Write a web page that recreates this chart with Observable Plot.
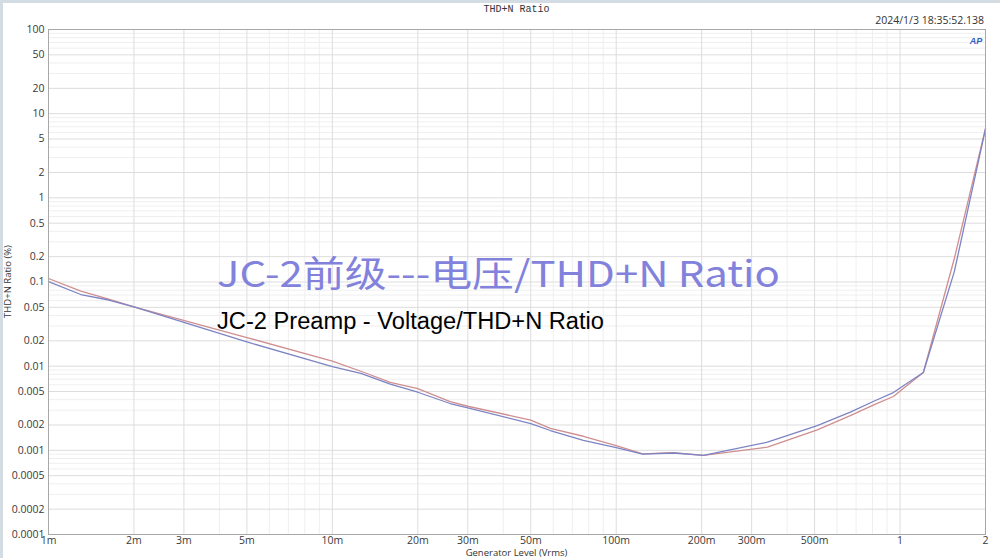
<!DOCTYPE html>
<html><head><meta charset="utf-8">
<script src="https://cdn.jsdelivr.net/npm/d3@7"></script>
<script src="https://cdn.jsdelivr.net/npm/@observablehq/plot@0.6"></script>
<style>
html,body{margin:0;padding:0;background:#fff;}
#wrap{position:relative;width:1000px;height:558px;overflow:hidden;background:#fff;}
.edgeT{position:absolute;left:0;top:0;width:1000px;height:3px;background:#d3dce2;}
.edgeL{position:absolute;left:0;top:0;width:3px;height:558px;background:#d3dce2;}
</style></head><body><div id="wrap"><div class="edgeT"></div><div class="edgeL"></div></div>
<script>
// Generator level (Vrms)
const voltage = [0.001, 0.0013, 0.00163, 0.002, 0.005, 0.01, 0.0126, 0.016, 0.02, 0.026, 0.03, 0.05, 0.0586, 0.0766, 0.1, 0.124, 0.159, 0.203, 0.341, 0.511, 0.668, 0.819, 0.947, 1.208, 1.553, 2.0];
// THD+N ratio (%), blue channel
const blueSeries = [0.101, 0.071, 0.0611, 0.0505, 0.0194, 0.0099, 0.0082, 0.0061, 0.0049, 0.0036, 0.0032, 0.00208, 0.00172, 0.00131, 0.00108, 0.0009, 0.00093, 0.00087, 0.00125, 0.00197, 0.00284, 0.00391, 0.00486, 0.0084, 0.133, 6.6];
// THD+N ratio (%), red channel
const redSeries = [0.110, 0.0777, 0.0624, 0.0505, 0.0219, 0.0115, 0.0087, 0.0064, 0.0054, 0.0038, 0.00334, 0.00229, 0.00182, 0.00147, 0.00114, 0.00091, 0.00094, 0.00087, 0.00109, 0.00175, 0.00259, 0.00354, 0.00436, 0.0084, 0.19, 6.7];

const xTicks = [0.001, 0.002, 0.003, 0.005, 0.01, 0.02, 0.03, 0.05, 0.1, 0.2, 0.3, 0.5, 1, 2];
const xTickLabels = ["1m", "2m", "3m", "5m", "10m", "20m", "30m", "50m", "100m", "200m", "300m", "500m", "1", "2"];
const xMinor = [0.004, 0.006, 0.007, 0.008, 0.009, 0.04, 0.06, 0.07, 0.08, 0.09, 0.4, 0.6, 0.7, 0.8, 0.9];
const yTicks = [0.0001, 0.0002, 0.0005, 0.001, 0.002, 0.005, 0.01, 0.02, 0.05, 0.1, 0.2, 0.5, 1, 2, 5, 10, 20, 50, 100];
const yTickLabels = ["0.0001", "0.0002", "0.0005", "0.001", "0.002", "0.005", "0.01", "0.02", "0.05", "0.1", "0.2", "0.5", "1", "2", "5", "10", "20", "50", "100"];
const yMinor = [0.0003, 0.0004, 0.0006, 0.0007, 0.0008, 0.0009, 0.003, 0.004, 0.006, 0.007, 0.008, 0.009, 0.03, 0.04, 0.06, 0.07, 0.08, 0.09, 0.3, 0.4, 0.6, 0.7, 0.8, 0.9, 3, 4, 6, 7, 8, 9, 30, 40, 60, 70, 80, 90];

const chartTitle = "THD+N Ratio";
const timestamp = "2024/1/3 18:35:52.138";
const xLabel = "Generator Level (Vrms)";
const yLabel = "THD+N Ratio (%)";
const overlayCN = "JC-2前级---电压/THD+N Ratio";
const overlayEN = "JC-2 Preamp - Voltage/THD+N Ratio";

const rows = voltage.map((v, i) => ({v, blue: blueSeries[i], red: redSeries[i]}));
const xTickRows = xTicks.map((v, i) => ({v, label: xTickLabels[i]}));
const yTickRows = yTicks.map((v, i) => ({v, label: yTickLabels[i]}));

const W = 1000, H = 558, ML = 48, MR = 15, MT = 29, MB = 24;

const chart = Plot.plot({
  width: W, height: H,
  marginLeft: ML, marginRight: MR, marginTop: MT, marginBottom: MB,
  style: {fontFamily: "'Open Sans', 'Noto Sans', sans-serif", fontSize: "10.5px", color: "#3a3a3a", background: "transparent"},
  x: {type: "log", domain: [0.001, 2], axis: null},
  y: {type: "log", domain: [0.0001, 100], axis: null},
  marks: [
    Plot.ruleX(xMinor, {stroke: "#efefef", strokeWidth: 1}),
    Plot.ruleY(yMinor, {stroke: "#efefef", strokeWidth: 1}),
    Plot.ruleX(xTicks, {stroke: "#dddddd", strokeWidth: 1}),
    Plot.ruleY(yTicks, {stroke: "#dddddd", strokeWidth: 1}),
    Plot.lineY(rows, {x: "v", y: "red", stroke: "#cf8e90", strokeWidth: 1.3}),
    Plot.lineY(rows, {x: "v", y: "blue", stroke: "#7d84c4", strokeWidth: 1.3}),
    Plot.frame({stroke: "#a8a8a8"}),
    Plot.text(xTickRows, {x: "v", text: "label", frameAnchor: "bottom", dy: 2, lineAnchor: "top", fill: "#3a3a3a", fontSize: 10.5}),
    Plot.text(yTickRows, {y: "v", text: "label", frameAnchor: "left", dx: -4, textAnchor: "end", fill: "#3a3a3a", fontSize: 10.5})
  ]
});
chart.style.position = "absolute";
chart.style.left = "0px";
chart.style.top = "0px";
document.getElementById("wrap").appendChild(chart);

const svg = d3.select(chart);
const cx = ML + (W - ML - MR) / 2;
const cy = MT + (H - MT - MB) / 2;
svg.append("text").attr("x", cx).attr("y", 12).attr("text-anchor", "middle")
  .attr("font-family", "'Liberation Mono', monospace").attr("font-size", 10).attr("fill", "#333").text(chartTitle);
svg.append("text").attr("x", 984).attr("y", 24).attr("text-anchor", "end")
  .attr("font-family", "'Open Sans', sans-serif").attr("font-size", 10.5).attr("fill", "#333").text(timestamp);
svg.append("text").attr("x", 976).attr("y", 44).attr("text-anchor", "middle")
  .attr("font-family", "'Liberation Sans', sans-serif").attr("font-style", "italic").attr("font-weight", "bold")
  .attr("font-size", 9).attr("fill", "#2d5fc4").text("AP");
svg.append("text").attr("transform", `translate(11,${cy}) rotate(-90)`).attr("text-anchor", "middle")
  .attr("font-family", "'Open Sans', sans-serif").attr("font-size", 9.5).attr("fill", "#333").text(yLabel);
svg.append("text").attr("x", cx).attr("y", 556).attr("text-anchor", "middle")
  .attr("font-family", "'Open Sans', sans-serif").attr("font-size", 9.5).attr("fill", "#333").text(xLabel);
svg.append("text").attr("x", 217).attr("y", 287).attr("text-anchor", "start")
  .attr("font-family", "'Noto Sans CJK SC', 'Noto Sans', sans-serif").attr("font-size", 36)
  .attr("fill", "#8282dc").attr("textLength", 563).attr("lengthAdjust", "spacingAndGlyphs").text(overlayCN);
svg.append("text").attr("x", 217).attr("y", 329).attr("text-anchor", "start")
  .attr("font-family", "'Liberation Sans', Arial, sans-serif").attr("font-size", 23)
  .attr("fill", "#000").attr("textLength", 387).attr("lengthAdjust", "spacingAndGlyphs").text(overlayEN);
</script>
</body></html>
